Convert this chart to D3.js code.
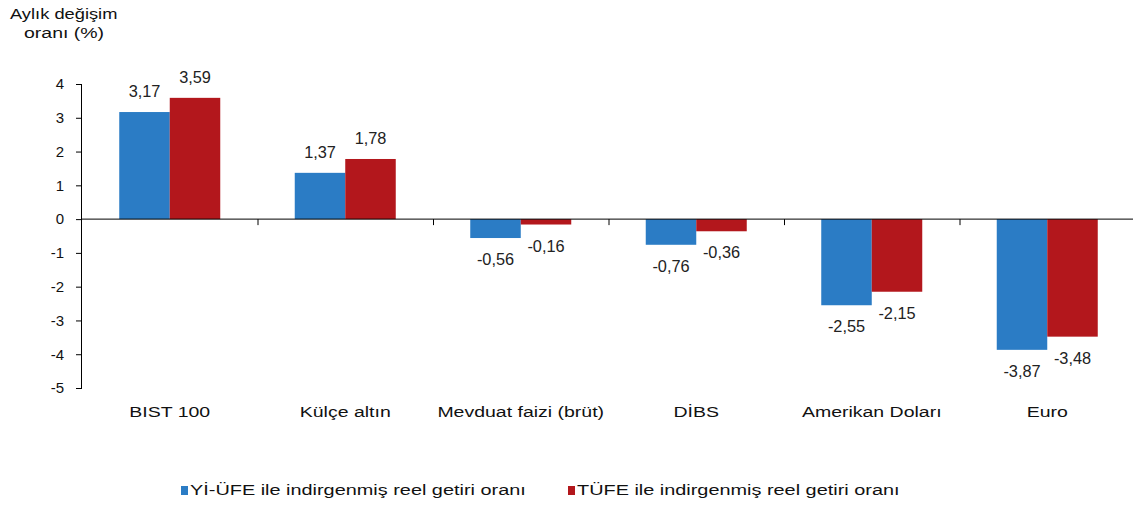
<!DOCTYPE html>
<html>
<head>
<meta charset="utf-8">
<script src="https://cdn.jsdelivr.net/npm/d3@7"></script>
<style>
  html, body { margin: 0; padding: 0; background: #ffffff; }
  svg { display: block; font-family: "Liberation Sans", Arial, sans-serif; }
</style>
</head>
<body>
<svg id="chart" width="1133" height="509"></svg>
<script>
const categories = ["BIST 100", "Külçe altın", "Mevduat faizi (brüt)", "DİBS", "Amerikan Doları", "Euro"];
const seriesNames = ["Yİ-ÜFE ile indirgenmiş reel getiri oranı", "TÜFE ile indirgenmiş reel getiri oranı"];
const yiufeValues = [3.17, 1.37, -0.56, -0.76, -2.55, -3.87];
const tufeValues = [3.59, 1.78, -0.16, -0.36, -2.15, -3.48];
const yTicks = [4, 3, 2, 1, 0, -1, -2, -3, -4, -5];
const titleLines = ["Aylık değişim", "oranı (%)"];
const colors = ["#2b7cc5", "#b3171c"];

const svg = d3.select("#chart");
const series = [yiufeValues, tufeValues];

const x0 = d3.scaleBand().domain(categories).range([82, 1135]).paddingInner(0).paddingOuter(0);
const groupW = 101;
const x1 = d3.scaleBand().domain(d3.range(series.length)).range([0, groupW]).padding(0);
const y = d3.scaleLinear().domain([-5, 4]).range([388, 84]);

const fmt = v => d3.format(".2f")(v).replace(".", ",").replace("\u2212", "-");

// title
svg.append("g").selectAll("text").data(titleLines).join("text")
  .attr("transform", (d, i) => i === 0 ? "translate(10,19) scale(1.22,1)" : "translate(24,38) scale(1.3,1)")
  .attr("font-size", 15).attr("fill", "#111").text(d => d);

// bars
const groups = svg.append("g").selectAll("g").data(categories).join("g")
  .attr("transform", d => `translate(${x0(d) + (x0.bandwidth() - groupW) / 2},0)`);

groups.selectAll("rect").data((c, ci) => series.map((s, si) => ({ si, v: s[ci] }))).join("rect")
  .attr("x", d => x1(d.si))
  .attr("width", x1.bandwidth())
  .attr("y", d => y(Math.max(0, d.v)))
  .attr("height", d => Math.abs(y(d.v) - y(0)))
  .attr("fill", d => colors[d.si]);

groups.selectAll("text.val").data((c, ci) => series.map((s, si) => ({ si, v: s[ci] }))).join("text")
  .attr("class", "val")
  .attr("transform", d => `translate(${x1(d.si) + x1.bandwidth() / 2},${d.v >= 0 ? y(d.v) - 15 : y(d.v) + 27}) scale(1.02,1)`)
  .attr("text-anchor", "middle")
  .attr("font-size", 16).attr("fill", "#222")
  .text(d => fmt(d.v));

// y axis
const yAxis = svg.append("g").attr("transform", "translate(82,0)")
  .call(d3.axisLeft(y).tickValues(yTicks).tickSize(6).tickPadding(12).tickFormat(d => String(d)));
yAxis.select(".domain").attr("stroke", "#000").attr("d", `M-0.5,${y(4)}V${y(-5)}`);
yAxis.selectAll(".tick line").attr("stroke", "#000");
yAxis.selectAll(".tick text").attr("font-size", 15).attr("fill", "#111")
  .attr("font-family", "Liberation Sans, Arial, sans-serif");

// x axis at zero with ticks at category boundaries
const xAxisG = svg.append("g").attr("transform", `translate(0,${y(0)})`);
xAxisG.append("line").attr("x1", 82).attr("x2", 1135).attr("stroke", "#000");
xAxisG.selectAll("line.tk").data(categories.slice(1)).join("line").attr("class", "tk")
  .attr("x1", d => x0(d) + 0.5).attr("x2", d => x0(d) + 0.5).attr("y1", 0).attr("y2", 6).attr("stroke", "#000");

// category labels
svg.append("g").selectAll("text").data(categories).join("text")
  .attr("transform", d => `translate(${x0(d) + x0.bandwidth() / 2},417) scale(1.3,1)`)
  .attr("text-anchor", "middle").attr("font-size", 15).attr("fill", "#111")
  .text(d => d);

// legend
const legendX = [181, 568];
const leg = svg.append("g").selectAll("g").data(seriesNames).join("g")
  .attr("transform", (d, i) => `translate(${legendX[i]},0)`);
leg.append("rect").attr("x", 0).attr("y", 486).attr("width", 7).attr("height", 9)
  .attr("fill", (d, i) => colors[i]);
leg.append("text").attr("transform", "translate(9,495) scale(1.42,1)")
  .attr("font-size", 14).attr("fill", "#111").text(d => d);
</script>
</body>
</html>
